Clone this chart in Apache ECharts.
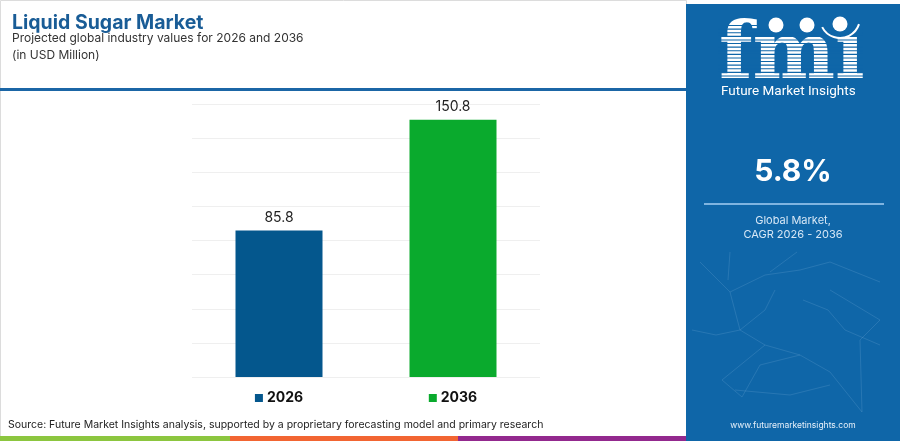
<!DOCTYPE html>
<html>
<head>
<meta charset="utf-8">
<script src="https://cdn.jsdelivr.net/npm/echarts@6/dist/echarts.min.js"></script>
<style>html,body{margin:0;padding:0;background:#fff}#c{width:900px;height:441px}</style>
</head>
<body>
<div id="c"></div>
<script>
const categories = ['2026', '2036'];
const values = [85.8, 150.8];
const barColors = ['#04578d', '#0aaa2d'];
const yTicks = [0, 20, 40, 60, 80, 100, 120, 140, 160];
const cagrText = '5.8%';

const chart = echarts.init(document.getElementById('c'));
const panel = '#0f66a8';
const FONT = 'Inter, Roboto, sans-serif';

// logo stripes
const stripes = [];
for (let y = 25; y < 78; y += 3.6) {
  stripes.push({ type: 'rect', shape: { x: 718, y: y, width: 145, height: 1.1 }, style: { fill: panel }, z: 12 });
}
// network decoration
const net = [
  [[700,262],[730,292],[765,275],[800,270],[830,262],[880,282]],
  [[730,292],[740,330],[765,345],[800,355],[830,372],[862,412]],
  [[692,330],[716,335],[740,330],[765,310],[775,290]],
  [[765,345],[722,380],[742,397],[760,365],[800,355]],
  [[830,290],[855,305],[880,320],[860,340],[862,412]],
  [[803,300],[828,310],[845,330],[880,345]],
  [[730,252],[728,280]],
  [[797,252],[770,272]],
  [[735,390],[790,395],[830,385]]
];
const netEls = net.map(p => ({ type: 'polyline', shape: { points: p }, style: { stroke: 'rgba(170,205,235,0.16)', lineWidth: 1, fill: null }, z: 3 }));

chart.setOption({
  backgroundColor: '#fff',
  animation: false,
  title: {
    text: 'Liquid Sugar Market',
    subtext: 'Projected global industry values for 2026 and 2036\n(in USD Million)',
    left: 7, top: 8, itemGap: -3,
    textStyle: { fontFamily: FONT, fontSize: 19.5, fontWeight: 'bold', color: '#195c96' },
    subtextStyle: { fontFamily: FONT, fontSize: 12, color: '#333', lineHeight: 17 }
  },
  grid: { left: 192, right: 360, top: 104, bottom: 64 },
  xAxis: {
    type: 'category',
    data: categories,
    axisLine: { show: false },
    axisTick: { show: false },
    axisLabel: {
      margin: 14,
      formatter: (v, i) => '{m' + i + '|}{t|' + v + '}',
      rich: {
        m0: { backgroundColor: barColors[0], width: 8, height: 8 },
        m1: { backgroundColor: barColors[1], width: 8, height: 8 },
        t: { fontFamily: FONT, fontSize: 14, fontWeight: 'bold', color: '#111', padding: [0, 0, 0, 4] }
      }
    }
  },
  yAxis: {
    type: 'value',
    min: yTicks[0], max: yTicks[yTicks.length - 1], interval: yTicks[1] - yTicks[0],
    axisLabel: { show: false },
    axisLine: { show: false },
    axisTick: { show: false },
    splitLine: { lineStyle: { color: '#efefef', width: 1 } }
  },
  series: [{
    type: 'bar',
    barWidth: '50%',
    data: values.map((v, i) => ({ value: v, itemStyle: { color: barColors[i] } })),
    label: { show: true, position: 'top', distance: 6, fontFamily: FONT, fontSize: 14, color: '#222', formatter: p => p.value.toFixed(1) }
  }],
  graphic: [
    { type: 'rect', shape: { x: 0.5, y: 0.5, width: 686, height: 440 }, style: { fill: null, stroke: '#dcdcdc', lineWidth: 1 }, z: 1 },
    { type: 'rect', shape: { x: 0, y: 88, width: 686, height: 3 }, style: { fill: '#1b66a6' }, z: 5 },
    { type: 'rect', shape: { x: 0, y: 436, width: 230, height: 5 }, style: { fill: '#8cc63f' }, z: 5 },
    { type: 'rect', shape: { x: 230, y: 436, width: 228, height: 5 }, style: { fill: '#f26532' }, z: 5 },
    { type: 'rect', shape: { x: 458, y: 436, width: 228, height: 5 }, style: { fill: '#93298e' }, z: 5 },
    { type: 'text', left: 8, top: 419, style: { text: 'Source: Future Market Insights analysis, supported by a proprietary forecasting model and primary research', fontFamily: FONT, fontSize: 10.5, fill: '#222' }, z: 5 },
    { type: 'rect', shape: { x: 686, y: 4, width: 214, height: 437 }, style: { fill: panel }, z: 2 },
    ...netEls,
    { type: 'text', left: 719, top: 19, style: { text: 'fmi', fontFamily: 'DejaVu Serif', fontSize: 78, fontWeight: 'bold', fill: '#fff' }, z: 10 },
    ...stripes,
    { type: 'rect', shape: { x: 838, y: 14, width: 24, height: 20 }, style: { fill: panel }, z: 12.5 },
    { type: 'circle', shape: { cx: 776, cy: 25, r: 7.5 }, style: { fill: '#fff' }, z: 13 },
    { type: 'circle', shape: { cx: 807, cy: 25, r: 7.5 }, style: { fill: '#fff' }, z: 13 },
    { type: 'circle', shape: { cx: 840, cy: 24, r: 7.5 }, style: { fill: '#fff' }, z: 13 },
    { type: 'arc', shape: { cx: 840, cy: 18, r: 20, startAngle: Math.PI * 0.1, endAngle: Math.PI * 0.85 }, style: { stroke: '#fff', lineWidth: 2, fill: null }, z: 13 },
    { type: 'text', left: 721, top: 85, style: { text: 'Future Market Insights', fontFamily: 'Roboto', fontSize: 13.5, fill: '#fff' }, z: 10 },
    { type: 'text', x: 793, y: 172, style: { text: cagrText, fontFamily: FONT, fontSize: 30, fontWeight: 'bold', fill: '#fff', align: 'center', verticalAlign: 'middle' }, z: 10 },
    { type: 'rect', shape: { x: 704, y: 203, width: 180, height: 2 }, style: { fill: '#7fb4e0' }, z: 10 },
    { type: 'text', x: 793, y: 221, style: { text: 'Global Market,', fontFamily: FONT, fontSize: 11, fill: '#d6e7f6', align: 'center', verticalAlign: 'middle' }, z: 10 },
    { type: 'text', x: 793, y: 235, style: { text: 'CAGR 2026 - 2036', fontFamily: FONT, fontSize: 11, fill: '#d6e7f6', align: 'center', verticalAlign: 'middle' }, z: 10 },
    { type: 'text', x: 793, y: 425, style: { text: 'www.futuremarketinsights.com', fontFamily: FONT, fontSize: 8.5, fill: '#e6f0fa', align: 'center', verticalAlign: 'middle' }, z: 10 }
  ]
});
</script>
</body>
</html>
